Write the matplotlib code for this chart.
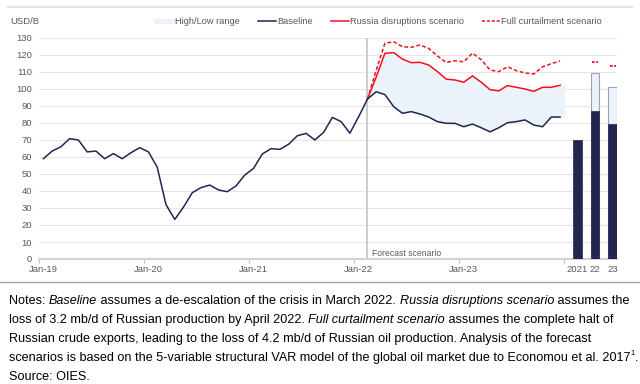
import numpy as np
import matplotlib.pyplot as plt
from matplotlib.lines import Line2D

plt.rcParams['font.family'] = ['Liberation Sans', 'DejaVu Sans']

# ---- data (USD/B), monthly from Jan-19 ----
hist_baseline = [59, 63.5, 66, 70.8, 70, 63, 63.5, 59, 62, 59, 62.5, 65.5,
                 63, 54, 32, 23.3, 30.5, 39, 42, 43.5, 40.6, 39.6, 43, 49.4,
                 53.3, 61.8, 64.9, 64.5, 67.5, 72.5, 73.9, 70, 74.5, 83.3, 80.8, 74,
                 83.7]
# forecast part, Feb-22 .. Dec-23
fc_baseline = [94, 98.4, 96.7, 89.6, 85.7, 86.7, 85.3, 83.5, 80.8, 79.8, 79.8,
               77.8, 79.4, 77.2, 74.8, 77.2, 80.2, 80.8, 81.8, 78.8, 77.8, 83.5, 83.5]
fc_russia = [94, 107, 121, 121.4, 117.6, 115.5, 115.7, 114.1, 110.2, 105.8, 105.3,
             104, 107.7, 104, 99.6, 98.9, 102, 101, 100, 98.6, 101, 101, 102.2]
fc_full = [94, 111, 126.9, 127.8, 124.9, 124.5, 125.9, 123.9, 119.4, 115.6, 116.6,
           116, 121.1, 117.2, 111.2, 110.2, 113.1, 110.8, 109.4, 108.8, 113, 114.9, 116.5]

# annual averages
years = ['2021', '22', '23']
annual_baseline = [70, 87, 79.2]
annual_russia = [None, 109.2, 101.4]
annual_full = [None, 116, 113.5]

tick_labels = ['Jan-19', 'Jan-20', 'Jan-21', 'Jan-22', 'Jan-23']

navy = '#21264f'
red = '#f2101c'
band = '#ecf2fa'
grey_txt = '#595959'

# positions: month index, bars after a one-month gap, two months apart
n_hist = len(hist_baseline)
x_fc = np.arange(n_hist, n_hist + len(fc_baseline))
full_base = hist_baseline + fc_baseline
x_full_base = np.arange(len(full_base))
x_bars = x_fc[-1] + 2 + 2 * np.arange(len(years))

fig = plt.figure(figsize=(6.4, 3.84), dpi=100)
ax = fig.add_axes([39 / 640, 1 - 259 / 384, (617 - 39) / 640, (259 - 38) / 384])

# high/low band, extended half a month past the last point
band_x = np.append(x_fc, x_fc[-1] + 0.5)
ax.fill_between(band_x, fc_baseline + fc_baseline[-1:], fc_russia + fc_russia[-1:],
                color=band, lw=0, zorder=1)

ax.plot(x_full_base, full_base, color=navy, lw=1.1, zorder=4)
ax.plot(x_fc, fc_russia, color=red, lw=1.1, zorder=3)
ax.plot(x_fc, fc_full, color=red, lw=1.1, ls=(0, (2.5, 1.5)), zorder=3)

# forecast marker
ax.axvline(x_fc[0], color='#c8c8c8', lw=1.3, zorder=2)
ax.text(x_fc[0] + 0.5, 3.5, 'Forecast scenario', fontsize=6.2, color=grey_txt,
        va='center', ha='left')

# annual bars
for xb, b, r, f in zip(x_bars, annual_baseline, annual_russia, annual_full):
    if r is not None:
        ax.bar(xb, r, width=0.95, color=band, edgecolor='#9aa1bb', lw=0.8, zorder=3)
    ax.bar(xb, b, width=0.95, color=navy, edgecolor=navy, lw=0.5, zorder=4)
    if f is not None:
        ax.plot([xb - 0.35, xb + 0.35], [f, f], color=red, lw=1.3,
                ls=(0, (1.5, 0.8)), zorder=4)

ax.set_ylim(0, 130)
ax.set_xlim(-0.46, x_bars[-1] + 0.5)
ax.set_yticks(np.arange(0, 131, 10))
ax.set_xticks(list(x_full_base[::12]) + list(x_bars))
ax.set_xticklabels(tick_labels + years)
ax.set_xticks(np.arange(-0.5, x_fc[-1] + 1, 12), minor=True)
ax.tick_params(axis='both', which='major', length=0, labelsize=6.8, colors=grey_txt)
ax.tick_params(axis='x', which='major', pad=4)
ax.tick_params(axis='y', which='major', pad=5)
ax.tick_params(axis='x', which='minor', length=3, color='#bfbfbf', width=0.8)

ax.grid(axis='y', color='#e6e6e6', lw=0.8, zorder=0)
ax.set_axisbelow(True)
for s in ['top', 'right', 'left']:
    ax.spines[s].set_visible(False)
ax.spines['bottom'].set_color('#d4d4d4')
ax.spines['bottom'].set_linewidth(1.5)

fig.text(10 / 640, 1 - 22 / 384, 'USD/B', fontsize=6.8, color=grey_txt, va='center')

handles = [Line2D([], [], color=band, lw=3.5),
           Line2D([], [], color=navy, lw=1.1),
           Line2D([], [], color=red, lw=1.1),
           Line2D([], [], color=red, lw=1.1, ls=(0, (2, 1.2)))]
labels = ['High/Low range', 'Baseline', 'Russia disruptions scenario',
          'Full curtailment scenario']
fig.legend(handles, labels, loc='center', bbox_to_anchor=(379 / 640, 1 - 22 / 384),
           ncol=4, frameon=False, fontsize=6.7, labelcolor=grey_txt,
           handlelength=1.9, handletextpad=0.1, columnspacing=2.0)

# decorative rules
fig.add_artist(Line2D([8 / 640, 632 / 640], [1 - 7 / 384] * 2, color='#e3e3e3', lw=1.5))
fig.add_artist(Line2D([0, 1], [1 - 282 / 384] * 2, color='#a6a6a6', lw=1))

# notes with italics
notes = [
    [('Notes: ', 'normal'), ('Baseline', 'italic'),
     (' assumes a de-escalation of the crisis in March 2022. ', 'normal'),
     ('Russia disruptions scenario', 'italic'), (' assumes the', 'normal')],
    [('loss of 3.2 mb/d of Russian production by April 2022. ', 'normal'),
     ('Full curtailment scenario', 'italic'), (' assumes the complete halt of', 'normal')],
    [('Russian crude exports, leading to the loss of 4.2 mb/d of Russian oil production. '
      'Analysis of the forecast', 'normal')],
    [('scenarios is based on the 5-variable structural VAR model of the global oil market '
      'due to Economou et al. 2017', 'normal'), ('1', 'sup'), ('.', 'normal')],
    [('Source: OIES.', 'normal')],
]
renderer = fig.canvas.get_renderer()
note_fs = 9.05
for i, parts in enumerate(notes):
    xp = 9 / 640
    yp = 1 - (301 + 18.9 * i) / 384
    for txt, style in parts:
        if style == 'sup':
            t = fig.text(xp, yp + 4 / 384, txt, fontsize=5.5, color='black',
                         va='center')
        else:
            t = fig.text(xp, yp, txt, fontsize=note_fs, color='black',
                         style=style, va='center')
        xp += t.get_window_extent(renderer).width / fig.bbox.width

fig.savefig('out.png', dpi=100)
